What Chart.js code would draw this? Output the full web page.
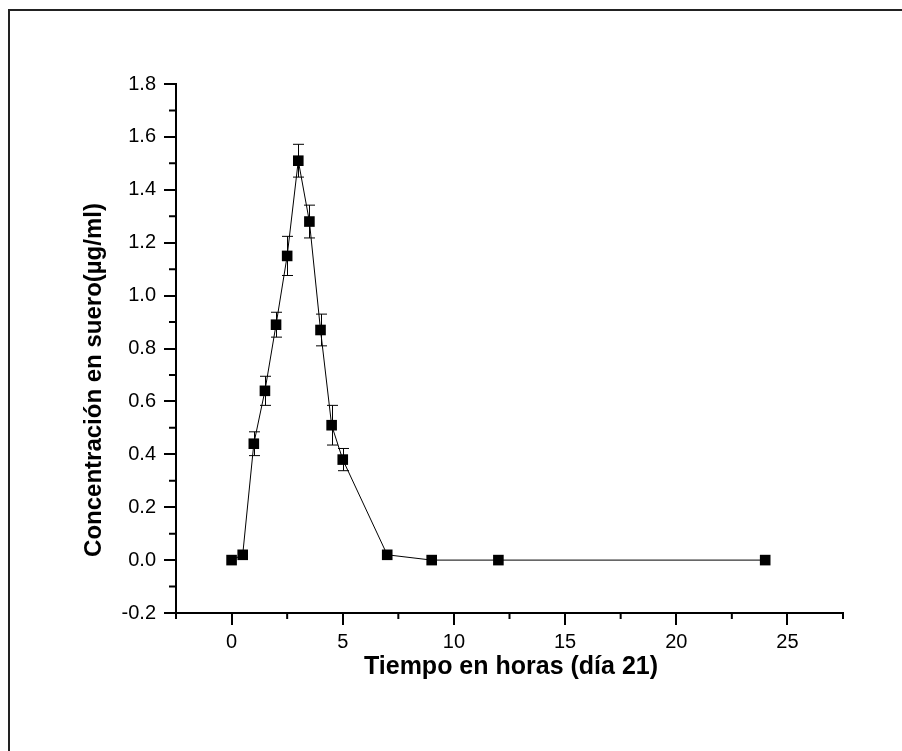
<!DOCTYPE html>
<html>
<head>
<meta charset="utf-8">
<script src="https://cdn.jsdelivr.net/npm/chart.js@4.4.0/dist/chart.umd.min.js"></script>
<style>
body{margin:0;background:#fff}
canvas{display:block}
</style>
</head>
<body>
<canvas id="chart" width="902" height="751"></canvas>
<script>

let times=[0,0.5,1,1.5,2,2.5,3,3.5,4,4.5,5,7,9,12,24]
let conc=[0,0.02,0.44,0.64,0.89,1.15,1.51,1.28,0.87,0.51,0.38,0.02,0,0,0]
let errs=[0,0,0.045,0.055,0.047,0.074,0.062,0.062,0.06,0.075,0.042,0,0,0,0]

let xTicks=[0,5,10,15,20,25]
let xMinor=[-2.5,2.5,7.5,12.5,17.5,22.5,27.5]
let yTicks=[-0.2,0,0.2,0.4,0.6,0.8,1.0,1.2,1.4,1.6,1.8]
let yMinor=[-0.1,0.1,0.3,0.5,0.7,0.9,1.1,1.3,1.5,1.7]

let xTitle="Tiempo en horas (día 21)"
let yTitle="Concentración en suero(µg/ml)"

let font="'Liberation Sans', Arial, sans-serif"

let extras={
id:"extras",
beforeDraw(chart){
let c=chart.ctx
c.save()
c.strokeStyle="#222"
c.lineWidth=2
c.beginPath()
c.moveTo(9,751)
c.lineTo(9,10)
c.lineTo(902,10)
c.stroke()
c.restore()
},
afterDatasetsDraw(chart){
let c=chart.ctx
let xs=chart.scales.x
let ys=chart.scales.y
c.save()
c.strokeStyle="#000"
c.lineWidth=1
times.forEach((t,i)=>{
if(!errs[i]) return
let px=Math.round(xs.getPixelForValue(t))+0.5
let top=ys.getPixelForValue(conc[i]+errs[i])
let bot=ys.getPixelForValue(conc[i]-errs[i])
c.beginPath()
c.moveTo(px,top);c.lineTo(px,bot)
c.moveTo(px-5.5,top);c.lineTo(px+5.5,top)
c.moveTo(px-5.5,bot);c.lineTo(px+5.5,bot)
c.stroke()
})
c.restore()
},
afterDraw(chart){
let c=chart.ctx
let xs=chart.scales.x
let ys=chart.scales.y
let a=chart.chartArea
c.save()
c.strokeStyle="#000"
c.lineWidth=2
c.beginPath()
xMinor.forEach(v=>{
let px=xs.getPixelForValue(v)
c.moveTo(px,a.bottom);c.lineTo(px,a.bottom+6)
})
yMinor.forEach(v=>{
let py=ys.getPixelForValue(v)
c.moveTo(a.left,py);c.lineTo(a.left-7,py)
})
c.stroke()

c.fillStyle="#000"
c.font="bold 25px "+font
c.textAlign="center"
c.textBaseline="alphabetic"
c.fillText(xTitle,511,674)

c.translate(101,380)
c.rotate(-Math.PI/2)
c.font="bold 24px "+font
c.fillText(yTitle,0,0)
c.restore()
}
}

let ctx=document.getElementById("chart").getContext("2d")

let chart=new Chart(ctx,{
type:"line",
data:{
datasets:[{
data:times.map((t,i)=>({x:t,y:conc[i]})),
borderColor:"#000",
borderWidth:1,
backgroundColor:"#000",
pointStyle:"rect",
pointRadius:7.5,
pointBorderWidth:0,
pointHoverRadius:7.5,
tension:0,
clip:false
}]
},
options:{
responsive:false,
animation:false,
events:[],
layout:{padding:{left:0,top:84,right:59,bottom:0}},
plugins:{legend:{display:false},tooltip:{enabled:false}},
scales:{
x:{
type:"linear",
min:-2.5,
max:27.5,
afterBuildTicks(s){s.ticks=xTicks.map(v=>({value:v}))},
afterFit(s){s.height=138},
ticks:{color:"#000",padding:5,font:{family:font,size:20},maxRotation:0,callback:v=>v},
grid:{display:true,drawOnChartArea:false,drawTicks:true,tickLength:12,lineWidth:2,color:"#000"},
border:{display:true,width:2,color:"#000"}
},
y:{
type:"linear",
min:-0.2,
max:1.8,
afterBuildTicks(s){s.ticks=yTicks.map(v=>({value:v}))},
afterFit(s){s.width=176},
ticks:{color:"#000",padding:8,font:{family:font,size:20},callback:v=>v.toFixed(1)},
grid:{display:true,drawOnChartArea:false,drawTicks:true,tickLength:12,lineWidth:2,color:"#000"},
border:{display:true,width:2,color:"#000"}
}
}
},
plugins:[extras]
})

</script>
</body>
</html>
